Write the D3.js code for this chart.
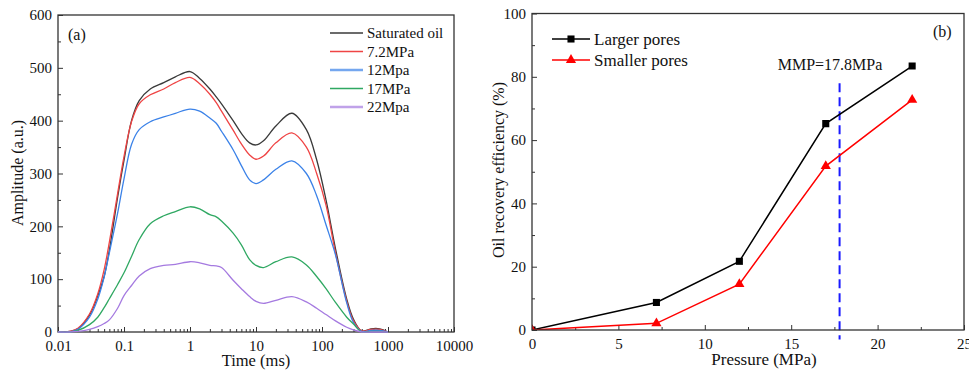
<!DOCTYPE html>
<html>
<head>
<meta charset="utf-8">
<script src="https://cdn.jsdelivr.net/npm/d3@7"></script>
<style>
  body { margin: 0; background: #fff; }
  svg, svg text { font-family: "Liberation Serif", "Times New Roman", serif; }
</style>
</head>
<body>
<svg id="chart" width="969" height="372"></svg>
<script>
// (a) T2 spectra, amplitude at each relaxation time (ms)
const timeMs = [0.01, 0.015, 0.02, 0.03, 0.04, 0.05, 0.06, 0.08, 0.1, 0.13, 0.17, 0.25, 0.4, 0.6, 1, 1.4, 2, 2.5, 3, 4.5, 6, 8, 10, 13, 20, 35, 58, 83, 115, 160, 237, 300, 400, 550, 750, 1000];
const saturatedOil = [0, 1, 6, 32, 68, 105, 155, 255, 325, 400, 438, 460, 472, 483, 493, 480, 460, 445, 432, 400, 376, 358, 354, 362, 390, 414, 383, 326, 250, 158, 62, 24, 2, 6, 6, 0];
const p72 = [0, 1, 7, 34, 72, 118, 170, 262, 332, 398, 432, 449, 460, 472, 482, 470, 450, 434, 418, 382, 356, 335, 327, 333, 358, 377, 350, 300, 240, 150, 58, 21, 2, 5, 5, 0];
const p12 = [0, 0, 5, 28, 62, 104, 150, 225, 290, 355, 383, 398, 407, 414, 422, 418, 405, 395, 380, 345, 315, 288, 281, 288, 308, 324, 300, 258, 203, 146, 55, 18, 1, 3, 3, 0];
const p17 = [0, 0, 3, 14, 28, 46, 63, 90, 112, 143, 175, 205, 220, 228, 237, 233, 222, 218, 210, 187, 165, 137, 126, 122, 133, 142, 127, 105, 82, 56, 28, 15, 0, 1, 1, 0];
const p22 = [0, 0, 1, 5, 10, 16, 23, 45, 69, 88, 106, 120, 126, 128, 133, 131, 126, 125, 122, 98, 82, 67, 58, 54, 60, 67, 57, 45, 33, 21, 9, 4, 0, 0, 0, 0];
const spectraNames = ["Saturated oil", "7.2MPa", "12Mpa", "17MPa", "22Mpa"];
const ampTicks = [0, 100, 200, 300, 400, 500, 600];
const timeTicks = [0.01, 0.1, 1, 10, 100, 1000, 10000];

// (b) recovery efficiency vs pressure
const pressure = [0, 7.2, 12, 17, 22];
const largerPores = [0, 8.7, 21.7, 65.2, 83.4];
const smallerPores = [0, 2.1, 14.5, 51.8, 72.7];
const mmp = 17.8;
const pressureTicks = [0, 5, 10, 15, 20, 25];
const recoveryTicks = [0, 20, 40, 60, 80, 100];

const SERIF = "Liberation Serif, Times New Roman, serif";
const svg = d3.select("#chart");
const FRAME = "#333";
const colors = ["#3a3a3a", "#ef4444", "#3b82e8", "#2fa862", "#a57ae0"];

// axis labels use the serif face, not d3's default sans-serif
const serifTicks = g => {
  g.attr("font-family", SERIF).attr("font-size", null);
  g.select(".domain").remove();
  g.selectAll("text").attr("font-family", SERIF).attr("font-size", 15).attr("fill", "#111");
};

// ---------- PANEL A ----------
const xA = d3.scaleLog().domain([0.01, 10000]).range([58, 454]);
const yA = d3.scaleLinear().domain([0, 600]).range([332, 15]);

const gA = svg.append("g");

// x axis (inside ticks, log minors)
const minorT = [];
for (let d = 0.01; d < 10000; d *= 10) for (let k = 2; k <= 9; k++) minorT.push(d * k);
gA.append("g")
  .attr("transform", `translate(0,${yA(0)})`)
  .call(d3.axisBottom(xA).tickValues(minorT).tickSize(-3).tickFormat(""))
  .call(serifTicks);
gA.append("g")
  .attr("transform", `translate(0,${yA(0)})`)
  .call(d3.axisBottom(xA).tickValues(timeTicks).tickSize(-5).tickPadding(8).tickFormat(d => String(+d.toPrecision(1))))
  .call(serifTicks);

// y axis
gA.append("g")
  .attr("transform", `translate(${xA(0.01)},0)`)
  .call(d3.axisLeft(yA).tickValues(d3.range(50, 600, 100)).tickSize(-3).tickFormat(""))
  .call(serifTicks);
gA.append("g")
  .attr("transform", `translate(${xA(0.01)},0)`)
  .call(d3.axisLeft(yA).tickValues(ampTicks).tickSize(-5).tickPadding(6))
  .call(serifTicks);

gA.selectAll(".tick line").attr("stroke", FRAME);

// FRAME
gA.append("rect")
  .attr("x", xA(0.01)).attr("y", yA(600))
  .attr("width", xA(10000) - xA(0.01)).attr("height", yA(0) - yA(600))
  .attr("fill", "none").attr("stroke", FRAME).attr("stroke-width", 1.3);

// CURVES
const spectra = [saturatedOil, p72, p12, p17, p22];
const lineA = d3.line()
  .x((d, i) => xA(timeMs[i]))
  .y(d => Math.min(yA(d), yA(0)))
  .curve(d3.curveCatmullRom.alpha(0.5));
gA.append("g").selectAll("path")
  .data(spectra)
  .join("path")
  .attr("d", d => lineA(d))
  .attr("fill", "none")
  .attr("stroke", (d, i) => colors[i])
  .attr("stroke-width", 1.3);

// LEGEND
const legA = gA.append("g");
spectraNames.forEach((name, i) => {
  const y = 33 + i * 18.5;
  legA.append("line")
    .attr("x1", 330).attr("x2", 363).attr("y1", y).attr("y2", y)
    .attr("stroke", colors[i])
    .attr("stroke-width", (i === 2 || i === 4) ? 2.4 : 1.3)
    .attr("stroke-opacity", (i === 2 || i === 4) ? 0.7 : 1);
  legA.append("text")
    .attr("x", 367).attr("y", y + 5)
    .attr("font-size", 15).attr("fill", "#111")
    .text(name);
});

gA.append("text").attr("x", 68).attr("y", 40).attr("font-size", 16).attr("fill", "#111").text("(a)");

gA.append("text")
  .attr("x", 256).attr("y", 366)
  .attr("text-anchor", "middle").attr("font-size", 16.5).attr("fill", "#111")
  .text("Time (ms)");
gA.append("text")
  .attr("transform", `translate(23,173) rotate(-90)`)
  .attr("text-anchor", "middle").attr("font-size", 16).attr("fill", "#111")
  .text("Amplitude (a.u.)");

// ---------- PANEL B ----------
const xB = d3.scaleLinear().domain([0, 25]).range([532, 964]);
const yB = d3.scaleLinear().domain([0, 100]).range([330, 13.5]);

const gB = svg.append("g");

gB.append("g")
  .attr("transform", `translate(0,${yB(0)})`)
  .call(d3.axisBottom(xB).tickValues(d3.range(2.5, 25, 5)).tickSize(-3).tickFormat(""))
  .call(serifTicks);
gB.append("g")
  .attr("transform", `translate(0,${yB(0)})`)
  .call(d3.axisBottom(xB).tickValues(pressureTicks).tickSize(-5).tickPadding(8))
  .call(serifTicks);
gB.append("g")
  .attr("transform", `translate(${xB(0)},0)`)
  .call(d3.axisLeft(yB).tickValues(d3.range(10, 100, 20)).tickSize(-3).tickFormat(""))
  .call(serifTicks);
gB.append("g")
  .attr("transform", `translate(${xB(0)},0)`)
  .call(d3.axisLeft(yB).tickValues(recoveryTicks).tickSize(-5).tickPadding(6))
  .call(serifTicks);
gB.selectAll(".tick line").attr("stroke", FRAME);

gB.append("clipPath").attr("id", "clipB")
  .append("rect")
  .attr("x", xB(0)).attr("y", yB(100))
  .attr("width", xB(25) - xB(0)).attr("height", yB(0) - yB(100));

// MMP LINE
gB.append("line")
  .attr("x1", xB(mmp)).attr("x2", xB(mmp))
  .attr("y1", yB(78)).attr("y2", yB(-3))
  .attr("stroke", "#1a1aff").attr("stroke-width", 2)
  .attr("stroke-dasharray", "9,5");
gB.append("text")
  .attr("x", 830).attr("y", 70)
  .attr("text-anchor", "middle").attr("font-size", 16).attr("fill", "#111")
  .text("MMP=17.8MPa");

const lineB = d3.line()
  .x((d, i) => xB(pressure[i]))
  .y(d => yB(d));
const series = [
  { vals: largerPores, color: "#000", shape: d3.symbolSquare, size: 50 },
  { vals: smallerPores, color: "#f00", shape: d3.symbolTriangle, size: 45 }
];
const plot = gB.append("g").attr("clip-path", "url(#clipB)");
series.forEach(s => {
  plot.append("path")
    .attr("d", lineB(s.vals))
    .attr("fill", "none").attr("stroke", s.color).attr("stroke-width", 1.5);
  plot.append("g").selectAll("path")
    .data(s.vals)
    .join("path")
    .attr("transform", (d, i) => `translate(${xB(pressure[i])},${yB(d)})`)
    .attr("d", d3.symbol().type(s.shape).size(s.size))
    .attr("fill", s.color);
});

// FRAME
gB.append("rect")
  .attr("x", xB(0)).attr("y", yB(100))
  .attr("width", xB(25) - xB(0)).attr("height", yB(0) - yB(100))
  .attr("fill", "none").attr("stroke", FRAME).attr("stroke-width", 1.3);

// LEGEND
const legB = gB.append("g");
["Larger pores", "Smaller pores"].forEach((name, i) => {
  const y = 39 + i * 21;
  const s = series[i];
  legB.append("line")
    .attr("x1", 552).attr("x2", 590).attr("y1", y).attr("y2", y)
    .attr("stroke", s.color).attr("stroke-width", 1.5);
  legB.append("path")
    .attr("transform", `translate(571,${y})`)
    .attr("d", d3.symbol().type(s.shape).size(s.size))
    .attr("fill", s.color);
  legB.append("text")
    .attr("x", 594).attr("y", y + 6)
    .attr("font-size", 17).attr("fill", "#111")
    .text(name);
});

gB.append("text").attr("x", 933).attr("y", 37).attr("font-size", 16).attr("fill", "#111").text("(b)");

gB.append("text")
  .attr("x", 764).attr("y", 365)
  .attr("text-anchor", "middle").attr("font-size", 17).attr("fill", "#111")
  .text("Pressure (MPa)");
gB.append("text")
  .attr("transform", `translate(504,170) rotate(-90)`)
  .attr("text-anchor", "middle").attr("font-size", 16).attr("fill", "#111")
  .text("Oil recovery efficiency (%)");
</script>
</body>
</html>
